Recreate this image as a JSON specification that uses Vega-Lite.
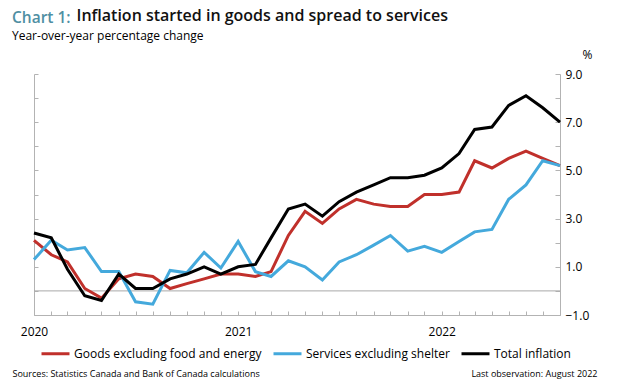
{
  "$schema": "https://vega.github.io/schema/vega-lite/v6.json",
  "width": 526,
  "height": 241,
  "autosize": {"type": "none"},
  "padding": {"left": 34, "top": 74, "right": 59, "bottom": 76},
  "background": "white",
  "config": {"font": "Open Sans", "view": {"stroke": null}, "axis": {"grid": false}},
  "title": {
    "text": "Chart 1:",
    "subtitle": "Year-over-year percentage change",
    "anchor": "start",
    "frame": "bounds",
    "color": "#4f8fa3",
    "font": "Open Sans",
    "fontSize": 15.5,
    "fontWeight": 600,
    "subtitleFont": "Open Sans",
    "subtitleFontSize": 12,
    "subtitleColor": "#000000",
    "subtitlePadding": 5,
    "offset": -35
  },
  "datasets": {
    "cpi": [
      {"date": "2020-01-01", "series": "Goods excluding food and energy", "value": 2.1},
      {"date": "2020-02-01", "series": "Goods excluding food and energy", "value": 1.5},
      {"date": "2020-03-01", "series": "Goods excluding food and energy", "value": 1.2},
      {"date": "2020-04-01", "series": "Goods excluding food and energy", "value": 0.1},
      {"date": "2020-05-01", "series": "Goods excluding food and energy", "value": -0.3},
      {"date": "2020-06-01", "series": "Goods excluding food and energy", "value": 0.5},
      {"date": "2020-07-01", "series": "Goods excluding food and energy", "value": 0.7},
      {"date": "2020-08-01", "series": "Goods excluding food and energy", "value": 0.6},
      {"date": "2020-09-01", "series": "Goods excluding food and energy", "value": 0.1},
      {"date": "2020-10-01", "series": "Goods excluding food and energy", "value": 0.3},
      {"date": "2020-11-01", "series": "Goods excluding food and energy", "value": 0.5},
      {"date": "2020-12-01", "series": "Goods excluding food and energy", "value": 0.7},
      {"date": "2021-01-01", "series": "Goods excluding food and energy", "value": 0.7},
      {"date": "2021-02-01", "series": "Goods excluding food and energy", "value": 0.6},
      {"date": "2021-03-01", "series": "Goods excluding food and energy", "value": 0.8},
      {"date": "2021-04-01", "series": "Goods excluding food and energy", "value": 2.3},
      {"date": "2021-05-01", "series": "Goods excluding food and energy", "value": 3.3},
      {"date": "2021-06-01", "series": "Goods excluding food and energy", "value": 2.8},
      {"date": "2021-07-01", "series": "Goods excluding food and energy", "value": 3.4},
      {"date": "2021-08-01", "series": "Goods excluding food and energy", "value": 3.8},
      {"date": "2021-09-01", "series": "Goods excluding food and energy", "value": 3.6},
      {"date": "2021-10-01", "series": "Goods excluding food and energy", "value": 3.5},
      {"date": "2021-11-01", "series": "Goods excluding food and energy", "value": 3.5},
      {"date": "2021-12-01", "series": "Goods excluding food and energy", "value": 4.0},
      {"date": "2022-01-01", "series": "Goods excluding food and energy", "value": 4.0},
      {"date": "2022-02-01", "series": "Goods excluding food and energy", "value": 4.1},
      {"date": "2022-03-01", "series": "Goods excluding food and energy", "value": 5.4},
      {"date": "2022-04-01", "series": "Goods excluding food and energy", "value": 5.1},
      {"date": "2022-05-01", "series": "Goods excluding food and energy", "value": 5.5},
      {"date": "2022-06-01", "series": "Goods excluding food and energy", "value": 5.8},
      {"date": "2022-07-01", "series": "Goods excluding food and energy", "value": 5.5},
      {"date": "2022-08-01", "series": "Goods excluding food and energy", "value": 5.2},
      {"date": "2020-01-01", "series": "Services excluding shelter", "value": 1.3},
      {"date": "2020-02-01", "series": "Services excluding shelter", "value": 2.1},
      {"date": "2020-03-01", "series": "Services excluding shelter", "value": 1.7},
      {"date": "2020-04-01", "series": "Services excluding shelter", "value": 1.8},
      {"date": "2020-05-01", "series": "Services excluding shelter", "value": 0.8},
      {"date": "2020-06-01", "series": "Services excluding shelter", "value": 0.8},
      {"date": "2020-07-01", "series": "Services excluding shelter", "value": -0.45},
      {"date": "2020-08-01", "series": "Services excluding shelter", "value": -0.55},
      {"date": "2020-09-01", "series": "Services excluding shelter", "value": 0.85},
      {"date": "2020-10-01", "series": "Services excluding shelter", "value": 0.75},
      {"date": "2020-11-01", "series": "Services excluding shelter", "value": 1.6},
      {"date": "2020-12-01", "series": "Services excluding shelter", "value": 0.95},
      {"date": "2021-01-01", "series": "Services excluding shelter", "value": 2.05},
      {"date": "2021-02-01", "series": "Services excluding shelter", "value": 0.8},
      {"date": "2021-03-01", "series": "Services excluding shelter", "value": 0.6},
      {"date": "2021-04-01", "series": "Services excluding shelter", "value": 1.25},
      {"date": "2021-05-01", "series": "Services excluding shelter", "value": 1.0},
      {"date": "2021-06-01", "series": "Services excluding shelter", "value": 0.45},
      {"date": "2021-07-01", "series": "Services excluding shelter", "value": 1.2},
      {"date": "2021-08-01", "series": "Services excluding shelter", "value": 1.5},
      {"date": "2021-09-01", "series": "Services excluding shelter", "value": 1.9},
      {"date": "2021-10-01", "series": "Services excluding shelter", "value": 2.3},
      {"date": "2021-11-01", "series": "Services excluding shelter", "value": 1.65},
      {"date": "2021-12-01", "series": "Services excluding shelter", "value": 1.85},
      {"date": "2022-01-01", "series": "Services excluding shelter", "value": 1.6},
      {"date": "2022-02-01", "series": "Services excluding shelter", "value": 2.05},
      {"date": "2022-03-01", "series": "Services excluding shelter", "value": 2.45},
      {"date": "2022-04-01", "series": "Services excluding shelter", "value": 2.55},
      {"date": "2022-05-01", "series": "Services excluding shelter", "value": 3.8},
      {"date": "2022-06-01", "series": "Services excluding shelter", "value": 4.4},
      {"date": "2022-07-01", "series": "Services excluding shelter", "value": 5.4},
      {"date": "2022-08-01", "series": "Services excluding shelter", "value": 5.2},
      {"date": "2020-01-01", "series": "Total inflation", "value": 2.4},
      {"date": "2020-02-01", "series": "Total inflation", "value": 2.2},
      {"date": "2020-03-01", "series": "Total inflation", "value": 0.9},
      {"date": "2020-04-01", "series": "Total inflation", "value": -0.2},
      {"date": "2020-05-01", "series": "Total inflation", "value": -0.4},
      {"date": "2020-06-01", "series": "Total inflation", "value": 0.7},
      {"date": "2020-07-01", "series": "Total inflation", "value": 0.1},
      {"date": "2020-08-01", "series": "Total inflation", "value": 0.1},
      {"date": "2020-09-01", "series": "Total inflation", "value": 0.5},
      {"date": "2020-10-01", "series": "Total inflation", "value": 0.7},
      {"date": "2020-11-01", "series": "Total inflation", "value": 1.0},
      {"date": "2020-12-01", "series": "Total inflation", "value": 0.7},
      {"date": "2021-01-01", "series": "Total inflation", "value": 1.0},
      {"date": "2021-02-01", "series": "Total inflation", "value": 1.1},
      {"date": "2021-03-01", "series": "Total inflation", "value": 2.2},
      {"date": "2021-04-01", "series": "Total inflation", "value": 3.4},
      {"date": "2021-05-01", "series": "Total inflation", "value": 3.6},
      {"date": "2021-06-01", "series": "Total inflation", "value": 3.1},
      {"date": "2021-07-01", "series": "Total inflation", "value": 3.7},
      {"date": "2021-08-01", "series": "Total inflation", "value": 4.1},
      {"date": "2021-09-01", "series": "Total inflation", "value": 4.4},
      {"date": "2021-10-01", "series": "Total inflation", "value": 4.7},
      {"date": "2021-11-01", "series": "Total inflation", "value": 4.7},
      {"date": "2021-12-01", "series": "Total inflation", "value": 4.8},
      {"date": "2022-01-01", "series": "Total inflation", "value": 5.1},
      {"date": "2022-02-01", "series": "Total inflation", "value": 5.7},
      {"date": "2022-03-01", "series": "Total inflation", "value": 6.7},
      {"date": "2022-04-01", "series": "Total inflation", "value": 6.8},
      {"date": "2022-05-01", "series": "Total inflation", "value": 7.7},
      {"date": "2022-06-01", "series": "Total inflation", "value": 8.1},
      {"date": "2022-07-01", "series": "Total inflation", "value": 7.6},
      {"date": "2022-08-01", "series": "Total inflation", "value": 7.0}
    ]
  },
  "data": {"name": "cpi"},
  "layer": [
    {
      "data": {"values": [{"zero": 0}]},
      "mark": {"type": "rule", "color": "#a8a8a8", "strokeWidth": 1},
      "encoding": {
        "y": {
          "field": "zero",
          "type": "quantitative",
          "scale": {"domain": [-1, 9], "nice": false, "zero": false},
          "axis": {
            "orient": "left",
            "values": [-1, 0, 1, 2, 3, 4, 5, 6, 7, 8, 9],
            "labels": false,
            "tickSize": -4,
            "domainColor": "#b3b3b3",
            "tickColor": "#b3b3b3",
            "title": "Sources: Statistics Canada and Bank of Canada calculations",
            "titleAngle": 0,
            "titleX": -22,
            "titleY": 302,
            "titleAlign": "left",
            "titleBaseline": "alphabetic",
            "titleFont": "Open Sans",
            "titleFontSize": 9,
            "titleFontWeight": "normal",
            "titleColor": "#000000"
          }
        }
      }
    },
    {
      "mark": {"type": "line", "strokeWidth": 3},
      "encoding": {
        "x": {
          "field": "date",
          "type": "temporal",
          "scale": {"type": "utc", "nice": false},
          "axis": {
            "orient": "bottom",
            "tickCount": {"interval": "month", "step": 1},
            "labelExpr": "utcFormat(datum.value, '%m') == '01' ? utcFormat(datum.value, '%Y') : ''",
            "labelOverlap": false,
            "labelFlush": false,
            "labelBound": false,
            "labelFontSize": 12,
            "labelColor": "#000000",
            "labelPadding": 15,
            "tickSize": -4,
            "domainColor": "#b3b3b3",
            "tickColor": "#b3b3b3",
            "title": "Last observation: August 2022",
            "titleX": 563,
            "titleY": 61,
            "titleAlign": "right",
            "titleBaseline": "alphabetic",
            "titleFont": "Open Sans",
            "titleFontSize": 9,
            "titleFontWeight": "normal",
            "titleColor": "#000000"
          }
        },
        "y": {
          "field": "value",
          "type": "quantitative",
          "axis": {
            "orient": "right",
            "values": [-1, 0, 1, 2, 3, 4, 5, 6, 7, 8, 9],
            "labelExpr": "datum.value % 2 != 0 ? format(datum.value, '.1f') : ''",
            "labelFontSize": 12,
            "labelColor": "#000000",
            "labelPadding": 10,
            "tickSize": -5,
            "domainColor": "#b3b3b3",
            "tickColor": "#b3b3b3",
            "title": "%",
            "titleAngle": 0,
            "titleX": 27,
            "titleY": -16,
            "titleAlign": "center",
            "titleBaseline": "alphabetic",
            "titleFontSize": 12,
            "titleFontWeight": "normal",
            "titleColor": "#000000"
          }
        },
        "color": {
          "field": "series",
          "type": "nominal",
          "scale": {
            "domain": ["Goods excluding food and energy", "Services excluding shelter", "Total inflation"],
            "range": ["#c0302b", "#44a9dc", "#000000"]
          },
          "legend": {
            "orient": "none",
            "direction": "horizontal",
            "legendX": 6,
            "legendY": 264,
            "title": null,
            "padding": 0,
            "symbolType": "stroke",
            "symbolStrokeWidth": 3,
            "symbolSize": 784,
            "labelFontSize": 12,
            "labelFont": "Open Sans",
            "labelColor": "#000000",
            "labelLimit": 400,
            "labelOffset": 3,
            "columnPadding": 5
          }
        }
      }
    },
    {
      "mark": {"type": "point", "opacity": 0},
      "encoding": {
        "x": {
          "field": "date",
          "type": "temporal",
          "axis": {
            "orient": "top",
            "domain": false,
            "ticks": false,
            "labels": false,
            "title": "Inflation started in goods and spread to services",
            "titleX": 42,
            "titleY": -54,
            "titleAlign": "left",
            "titleBaseline": "alphabetic",
            "titleFont": "Open Sans",
            "titleFontSize": 16,
            "titleFontWeight": 600,
            "titleColor": "#111111"
          }
        }
      }
    }
  ],
  "resolve": {"axis": {"x": "independent", "y": "independent"}}
}
